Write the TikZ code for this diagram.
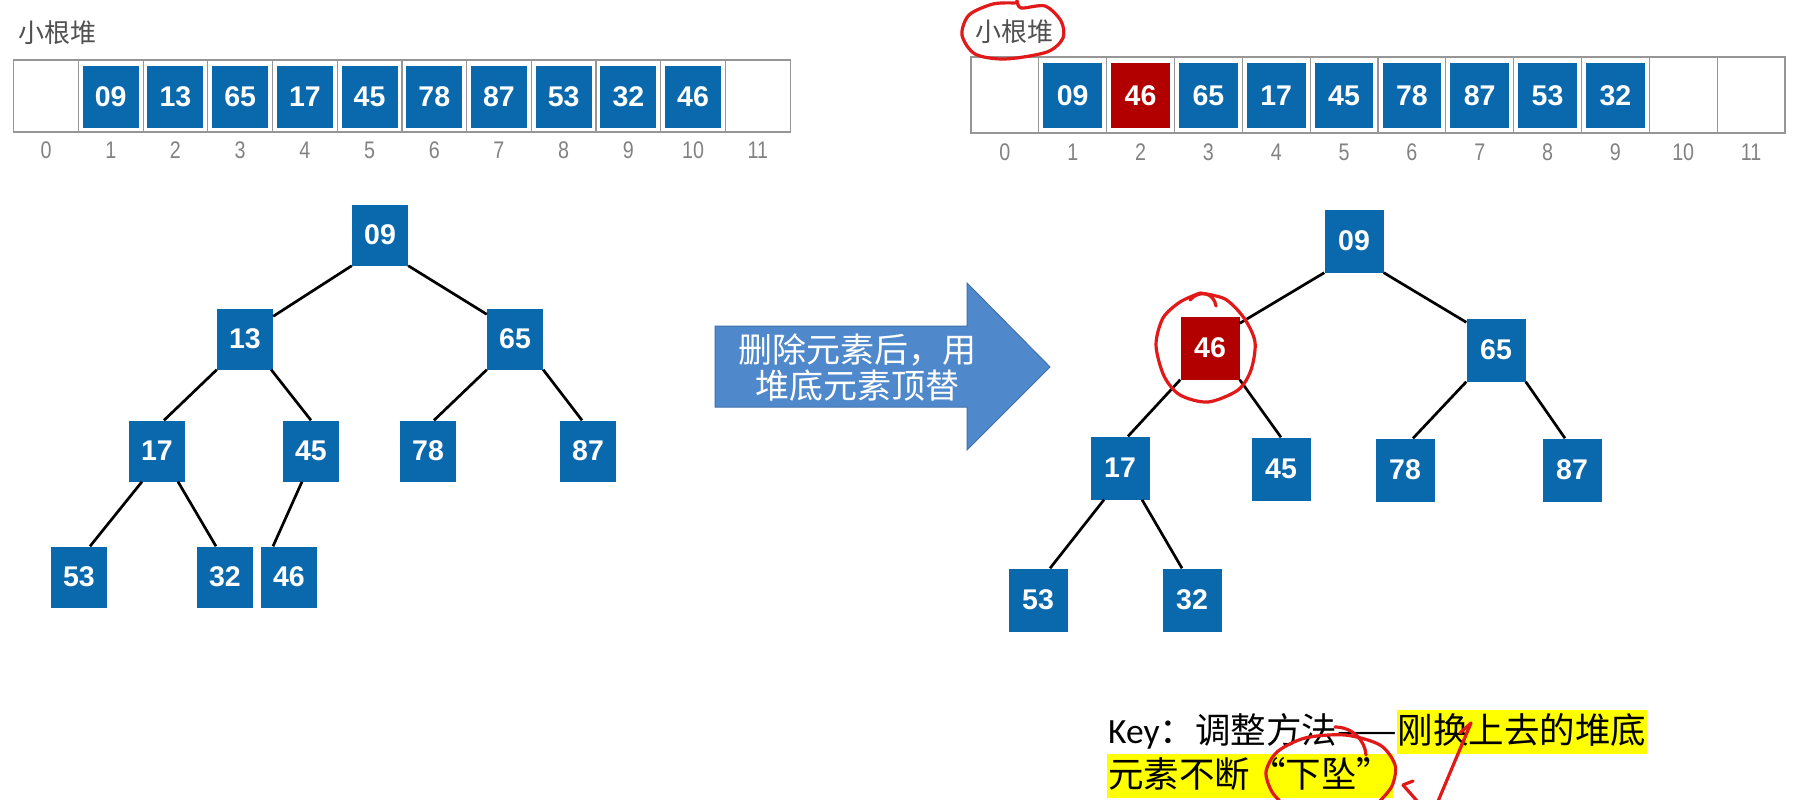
\documentclass[tikz,border=0pt]{standalone}
\usepackage{fontspec}
\setmainfont{Liberation Sans}
\newfontfamily\cjk{Noto Sans CJK SC}
\newfontfamily\narrowfont[FakeStretch=0.82]{Liberation Sans}
\newfontfamily\carlito{Carlito}
\definecolor{heapblue}{RGB}{10,104,172}
\definecolor{heapred}{RGB}{178,0,0}
\definecolor{idxgray}{RGB}{130,130,130}
\definecolor{titlegray}{RGB}{80,80,80}
\definecolor{cellline}{RGB}{150,150,150}
\definecolor{arrowblue}{RGB}{79,137,203}
\definecolor{arrowedge}{RGB}{65,113,170}
\definecolor{penred}{RGB}{225,25,25}
\definecolor{hl}{RGB}{255,255,0}
\tikzset{
  numtxt/.style={text=white, font=\fontsize{28.5}{30}\selectfont\bfseries, inner sep=0pt},
  lnode/.style={numtxt, fill=heapblue, minimum width=56pt, minimum height=61pt},
  rnode/.style={lnode, minimum width=59pt, minimum height=63pt},
  hotnode/.style={rnode, fill=heapred},
  lcell/.style={numtxt, fill=heapblue, minimum width=56pt, minimum height=62pt},
  rcell/.style={lcell, minimum width=58.6pt, minimum height=65pt},
  hotcell/.style={rcell, fill=heapred},
  lslot/.style={draw=cellline, line width=1.2pt, minimum width=64.7pt, minimum height=72pt, inner sep=0pt},
  rslot/.style={lslot, minimum width=67.83pt, minimum height=76pt},
  idx/.style={text=idxgray, font=\narrowfont\fontsize{24}{26}\selectfont},
  heaptitle/.style={text=titlegray, font=\cjk\fontsize{26}{28}\selectfont, anchor=west, inner sep=0pt},
  edge/.style={line width=2.7pt},
  pen/.style={draw=penred, line width=3.2pt, line cap=round, line join=round},
  arrowtxt/.style={text=white, font=\cjk\fontsize{34}{36}\selectfont, align=center},
  keytxt/.style={text=black, font=\cjk\fontsize{35.5}{40}\selectfont, text height=29pt, text depth=7pt, inner ysep=4pt, inner xsep=1pt, anchor=west},
}
\begin{document}
\begin{tikzpicture}[x=1pt,y=-1pt]
\useasboundingbox (0,0) rectangle (1796,800);
\fill[white] (0,0) rectangle (1796,800);

% ---------- left array ----------
\node[heaptitle] (ltitle) at (18,33) {小根堆};
\foreach \i in {0,...,11} {
  \node[lslot] (ls\i) at ({46.05+64.7*\i},96) {};
  \node[idx] (li\i) at ({46.05+64.7*\i},150) {\i};
}
\foreach \v [count=\i] in {09,13,65,17,45,78,87,53,32,46}
  \node[lcell] (la\i) at ({46.05+64.7*\i},97) {\v};

% ---------- right array ----------
\node[heaptitle] (rtitle) at (975,32) {小根堆};
\foreach \i in {0,...,11} {
  \node[rslot] (rs\i) at ({1004.9+67.83*\i},95) {};
  \node[idx] (ri\i) at ({1004.9+67.83*\i},152) {\i};
}
\foreach \v [count=\i] in {09,46,65,17,45,78,87,53,32} {
  \ifnum\i=2
    \node[hotcell] (ra\i) at ({1004.9+67.83*\i},95.5) {\v};
  \else
    \node[rcell] (ra\i) at ({1004.9+67.83*\i},95.5) {\v};
  \fi
}

% ---------- left tree ----------
\node[lnode] (L09) at (380,235) {09};
\node[lnode] (L13) at (245,339) {13};
\node[lnode] (L65) at (515,339) {65};
\node[lnode] (L17) at (157,451) {17};
\node[lnode] (L45) at (311,451) {45};
\node[lnode] (L78) at (428,451) {78};
\node[lnode] (L87) at (588,451) {87};
\node[lnode] (L53) at (79,577) {53};
\node[lnode] (L32) at (225,577) {32};
\node[lnode] (L46) at (289,577) {46};
\draw[edge] (L09.south west) -- ([yshift=-8pt]L13.north east);
\draw[edge] (L09.south east) -- ([yshift=-6pt]L65.north west);
\draw[edge] (L13.south west) -- ([xshift=7pt]L17.north);
\draw[edge] ([xshift=-2pt]L13.south east) -- (L45.north);
\draw[edge] (L65.south west) -- ([xshift=6pt]L78.north);
\draw[edge] (L65.south east) -- ([xshift=-6pt]L87.north);
\draw[edge] ([xshift=-15pt]L17.south) -- ([xshift=11pt]L53.north);
\draw[edge] ([xshift=21pt]L17.south) -- ([xshift=-9pt]L32.north);
\draw[edge] ([xshift=-9pt]L45.south) -- ([xshift=-16pt]L46.north);

% ---------- big arrow ----------
\filldraw[fill=arrowblue, draw=arrowedge, line width=1pt] (715,326) -- (967,326) -- (967,283) -- (1050,367) -- (967,450) -- (967,407) -- (715,407) -- cycle;
\node[arrowtxt] (atext) at (857,368) {删除元素后，用\\堆底元素顶替};

% ---------- right tree ----------
\node[rnode] (R09) at (1354,241) {09};
\node[hotnode] (R46) at (1210,348) {46};
\node[rnode] (R65) at (1496,350) {65};
\node[rnode] (R17) at (1120,468) {17};
\node[rnode] (R45) at (1281,469) {45};
\node[rnode] (R78) at (1405,470) {78};
\node[rnode] (R87) at (1572,470) {87};
\node[rnode] (R53) at (1038,600) {53};
\node[rnode] (R32) at (1192,600) {32};
\draw[edge] (R09.south west) -- ([yshift=-7pt]R46.north east);
\draw[edge] (R09.south east) -- ([yshift=-4pt]R65.north west);
\draw[edge] (R46.south west) -- ([xshift=8pt]R17.north);
\draw[edge] (R46.south east) -- (R45.north);
\draw[edge] (R65.south west) -- ([xshift=8pt]R78.north);
\draw[edge] (R65.south east) -- ([xshift=-7pt]R87.north);
\draw[edge] ([xshift=-16pt]R17.south) -- ([xshift=12pt]R53.north);
\draw[edge] ([xshift=22pt]R17.south) -- ([xshift=-10pt]R32.north);

% ---------- key text ----------
\node[keytxt, inner xsep=0pt] (k1) at (1108,732) {{\carlito Key}：调整方法——};
\node[keytxt, fill=hl] (k2) at (k1.east) {刚换上去的堆底};
\node[keytxt, fill=hl] (k3) at (1107,776) {元素不断“下坠”};

% ---------- red pen annotations ----------
\draw[pen] plot[smooth] coordinates {(1017,0) (1021,8) (1045,6) (1061,21) (1063,38) (1047,52) (1005,59) (975,54) (962,35) (969,15) (993,4) (1015,3)};
\draw[pen] plot[smooth] coordinates {(1200,293) (1225,299) (1244,318) (1255,342) (1251,370) (1238,390) (1208,402) (1180,395) (1164,376) (1156,345) (1163,318) (1180,302) (1200,293)};
\draw[pen] (1190,300) .. controls (1200,289) and (1214,293) .. (1216,306);
\draw[pen] plot[smooth] coordinates {(1378,803) (1392,786) (1395,765) (1380,745) (1345,735) (1305,738) (1277,752) (1266,772) (1272,792) (1285,806)};
\draw[pen] (1335,727) .. controls (1352,727) and (1365,740) .. (1366,755);
\draw[pen] (1436,806) -- (1471,723);
\draw[pen] (1460,733) -- (1471,723);
\draw[pen] (1403,785) -- (1418,802);
\draw[pen] (1403,785) -- (1413,781);
\end{tikzpicture}
\end{document}
